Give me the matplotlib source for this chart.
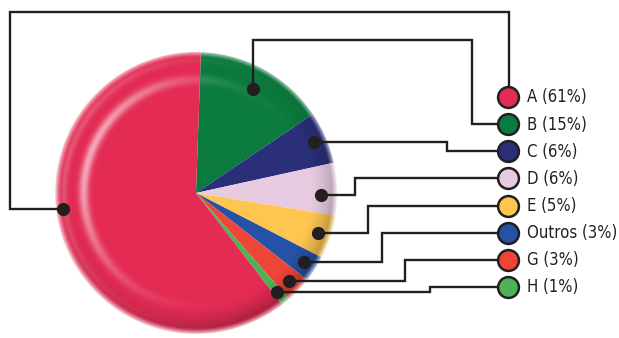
import numpy as np
import matplotlib.pyplot as plt

labels = ['A', 'B', 'C', 'D', 'E', 'Outros', 'G', 'H']
shares = [61, 15, 6, 6, 5, 3, 3, 1]
colors = ['#E32B53', '#0B7A3E', '#2A2F78', '#E8CBE0',
          '#FEC650', '#2552A6', '#EE4636', '#4DB356']

W, H = 619, 338
LINE = '#231F20'

fig = plt.figure(figsize=(W / 100, H / 100), dpi=100)
ax = fig.add_axes([0, 0, 1, 1])

# pie geometry (pixel-like coordinates, y up)
cx, cy, R = 196, 145, 141

# A is drawn last so the small slices run clockwise from the top
order = labels[1:] + labels[:1]
vals = [shares[labels.index(k)] for k in order]
cols = [colors[labels.index(k)] for k in order]
wedges, _ = ax.pie(vals, colors=cols, startangle=88, counterclock=False,
                   center=(cx, cy), radius=R,
                   wedgeprops=dict(linewidth=0, antialiased=True))
for w in wedges:
    w.set_zorder(1)

ax.set_aspect('equal')
ax.axis('off')

# shading: highlight ring, darker rim, soft edge
n = 400
ext = 1.08
g = np.linspace(-ext, ext, n)
gx, gy = np.meshgrid(g, g[::-1])
r = np.hypot(gx, gy)
phi = np.degrees(np.arctan2(gy, gx)) % 360
d = (phi - 160 + 180) % 360 - 180
w_ring = np.exp(-(d / 62) ** 2)
hl = 0.6 * np.exp(-((r - 0.80) / 0.035) ** 2) * w_ring
hl2 = 0.2 * np.exp(-((r - 0.94) / 0.025) ** 2) * w_ring
d2 = (phi - 310 + 180) % 360 - 180
w_dark = np.exp(-(d2 / 85) ** 2)
edge = np.clip((r - 0.96) / 0.05, 0, 1) ** 1.3
dark = 0.25 * np.clip((r - 0.8) / 0.16, 0, 1) ** 1.5 * w_dark * (1 - edge)

rgba = np.zeros((n, n, 4))
a_white = np.clip(hl + hl2 + edge, 0, 1)
a_tot = a_white + dark * (1 - a_white)
val = np.where(a_tot > 0, a_white / np.maximum(a_tot, 1e-6), 1)
rgba[..., 0] = val
rgba[..., 1] = val
rgba[..., 2] = val
rgba[..., 3] = np.where(r <= 1.05, a_tot, 0)
ax.imshow(rgba, extent=(cx - ext * R, cx + ext * R, cy - ext * R, cy + ext * R),
          zorder=2, interpolation='bilinear')
ax.set_xlim(0, W)
ax.set_ylim(0, H)

# legend rows on the right
row_x = 508
rows = [H - (97 + 27.14 * i) for i in range(len(labels))]

# where each leader line bends before reaching its row
elbow_x = {'C': 447, 'D': 355, 'E': 368, 'Outros': 382, 'G': 405, 'H': 430}
dot_r = {'A': 0.95, 'B': 0.84, 'D': 0.89}
dot_ang = {'A': 187, 'D': -1}

theta = {}
for k, w in zip(order, wedges):
    theta[k] = (w.theta1 + w.theta2) / 2

for i, k in enumerate(labels):
    a = np.radians(dot_ang.get(k, theta[k]))
    rr = dot_r.get(k, 0.91) * R
    dx, dy = cx + rr * np.cos(a), cy + rr * np.sin(a)
    ry = rows[i]
    if k == 'A':
        px = [dx, 10, 10, row_x + 1, row_x + 1]
        py = [dy, dy, H - 12, H - 12, ry]
    elif k == 'B':
        px = [dx, dx, 472, 472, row_x]
        py = [dy, H - 40, H - 40, ry, ry]
    else:
        ex = elbow_x[k]
        px = [dx, ex, ex, row_x]
        py = [dy, dy, ry, ry]
    ax.plot(px, py, color=LINE, lw=1.7, zorder=3, solid_joinstyle='miter')
    ax.plot(dx, dy, 'o', color=LINE, ms=8.5, zorder=4)
    ax.plot(row_x, ry, 'o', color=colors[i], mec=LINE, mew=1.8, ms=15, zorder=5)
    ax.text(527, ry - 0.5, f'{k} ({shares[i]}%)', va='center', ha='left',
            fontsize=12, family='DejaVu Sans', fontstretch='condensed',
            color='#231F20', zorder=5)

fig.savefig('out.png', dpi=100, facecolor='white')
